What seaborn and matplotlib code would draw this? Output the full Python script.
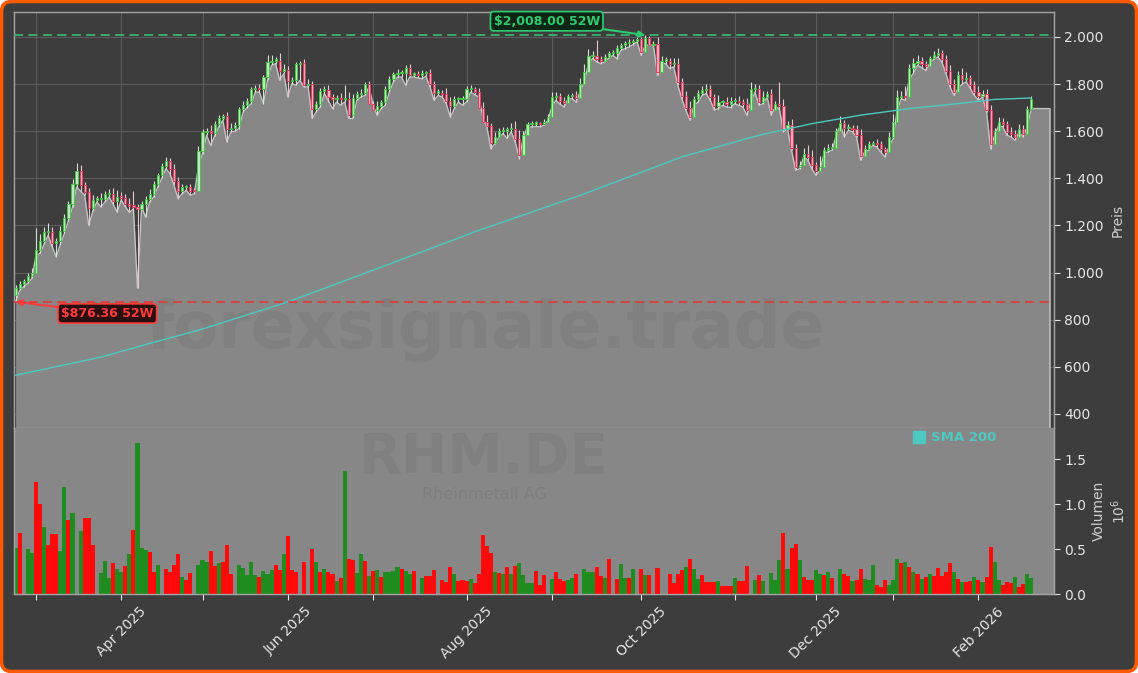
import numpy as np
import pandas as pd
import seaborn as sns
import matplotlib
matplotlib.use("Agg")
import matplotlib.pyplot as plt
from matplotlib.lines import Line2D
from matplotlib.patches import FancyBboxPatch
from matplotlib.transforms import IdentityTransform
from matplotlib.ticker import FuncFormatter

# --- data ---
holidays = ["2025-04-18", "2025-04-21", "2025-05-01", "2025-12-24",
            "2025-12-25", "2025-12-26", "2025-12-31", "2026-01-01"]

low = [876.36, 924, 940, 954, 975, 1070, 1082, 1120, 1158, 1110,
       1066, 1120, 1166, 1220, 1278, 1363, 1345, 1328, 1200, 1260,
       1299, 1278, 1300, 1321, 1290, 1257, 1307, 1280, 1255, 1270,
       933, 1278, 1236, 1300, 1321, 1363, 1400, 1441, 1420, 1370,
       1314, 1335, 1349, 1328, 1335, 1448, 1505, 1583, 1540, 1580,
       1618, 1646, 1555, 1597, 1600, 1611, 1682, 1700, 1717, 1766,
       1766, 1717, 1816, 1880, 1887, 1816, 1845, 1745, 1802, 1795,
       1816, 1788, 1788, 1654, 1682, 1703, 1760, 1730, 1696, 1724,
       1710, 1724, 1654, 1654, 1731, 1745, 1752, 1788, 1710, 1668,
       1696, 1710, 1766, 1809, 1830, 1830, 1795, 1830, 1830, 1826,
       1823, 1833, 1788, 1731, 1752, 1745, 1717, 1660, 1696, 1724,
       1710, 1724, 1766, 1755, 1745, 1660, 1618, 1526, 1547, 1576,
       1590, 1569, 1597, 1554, 1484, 1576, 1618, 1618, 1620, 1618,
       1625, 1646, 1703, 1731, 1715, 1703, 1738, 1738, 1724, 1770,
       1809, 1887, 1908, 1895, 1887, 1894, 1910, 1922, 1908, 1943,
       1950, 1958, 1968, 1979, 1922, 1965, 1965, 1965, 1837, 1887,
       1887, 1866, 1873, 1795, 1738, 1689, 1646, 1710, 1724, 1752,
       1760, 1731, 1690, 1696, 1710, 1703, 1700, 1717, 1710, 1703,
       1668, 1724, 1766, 1710, 1717, 1745, 1668, 1703, 1696, 1597,
       1611, 1519, 1434, 1441, 1491, 1477, 1441, 1413, 1434, 1505,
       1512, 1519, 1583, 1625, 1576, 1604, 1597, 1576, 1477, 1512,
       1519, 1540, 1533, 1510, 1491, 1533, 1569, 1689, 1738, 1731,
       1823, 1845, 1880, 1870, 1858, 1887, 1905, 1915, 1894, 1845,
       1788, 1752, 1781, 1800, 1809, 1781, 1752, 1731, 1745, 1682,
       1526, 1583, 1625, 1618, 1583, 1576, 1561, 1597, 1576, 1618,
       1696]

close = [934, 950, 964, 985, 1000, 1095, 1132, 1170, 1172, 1124,
         1132, 1178, 1232, 1290, 1375, 1430, 1370, 1340, 1272, 1310,
         1312, 1312, 1333, 1335, 1302, 1320, 1318, 1292, 1284, 1280,
         1270, 1290, 1312, 1333, 1375, 1412, 1453, 1475, 1440, 1390,
         1347, 1362, 1362, 1347, 1345, 1517, 1595, 1600, 1592, 1630,
         1658, 1665, 1609, 1614, 1625, 1694, 1712, 1729, 1778, 1782,
         1780, 1828, 1892, 1900, 1900, 1857, 1860, 1814, 1816, 1885,
         1890, 1795, 1800, 1694, 1715, 1772, 1775, 1745, 1736, 1738,
         1736, 1738, 1668, 1743, 1757, 1764, 1800, 1715, 1690, 1708,
         1722, 1778, 1821, 1842, 1845, 1845, 1870, 1840, 1842, 1838,
         1845, 1845, 1800, 1764, 1764, 1757, 1729, 1708, 1736, 1736,
         1736, 1778, 1778, 1767, 1700, 1640, 1620, 1550, 1575, 1600,
         1602, 1609, 1610, 1566, 1500, 1585, 1630, 1632, 1632, 1630,
         1640, 1660, 1745, 1750, 1730, 1720, 1750, 1752, 1740, 1800,
         1850, 1920, 1920, 1905, 1900, 1915, 1930, 1930, 1955, 1965,
         1975, 1978, 1985, 1990, 1935, 1995, 1965, 1970, 1850, 1900,
         1900, 1885, 1885, 1810, 1750, 1700, 1660, 1736, 1764, 1775,
         1780, 1745, 1708, 1722, 1722, 1715, 1729, 1729, 1722, 1715,
         1690, 1778, 1780, 1725, 1745, 1757, 1690, 1715, 1708, 1610,
         1625, 1530, 1450, 1455, 1505, 1490, 1455, 1430, 1450, 1520,
         1530, 1530, 1600, 1635, 1612, 1615, 1610, 1585, 1495, 1525,
         1545, 1550, 1545, 1525, 1510, 1575, 1640, 1745, 1750, 1745,
         1870, 1890, 1900, 1885, 1875, 1910, 1925, 1930, 1905, 1855,
         1800, 1765, 1840, 1820, 1825, 1795, 1765, 1748, 1760, 1690,
         1545, 1600, 1640, 1632, 1597, 1590, 1575, 1610, 1590, 1696,
         1738]
first_open = 905

upper_wick = [15, 12, 10, 14, 20, 95, 30, 25, 40, 20,
              15, 20, 18, 15, 20, 34, 25, 15, 20, 18,
              12, 25, 15, 20, 25, 30, 20, 15, 25, 60,
              10, 15, 12, 20, 15, 10, 12, 15, 12, 20,
              15, 12, 10, 15, 10, 20, 15, 12, 25, 15,
              12, 10, 15, 20, 12, 10, 15, 12, 10, 15,
              20, 12, 30, 25, 15, 30, 25, 15, 12, 10,
              10, 15, 20, 15, 12, 10, 15, 20, 12, 15,
              25, 60, 30, 15, 12, 15, 10, 12, 15, 20,
              12, 15, 12, 10, 20, 15, 12, 15, 10, 12,
              15, 10, 20, 12, 15, 10, 25, 15, 12, 10,
              15, 12, 20, 10, 15, 25, 30, 15, 20, 12,
              15, 10, 25, 35, 40, 15, 10, 12, 10, 8,
              10, 15, 20, 15, 12, 15, 10, 12, 20, 25,
              35, 30, 20, 66, 15, 12, 10, 15, 12, 10,
              10, 12, 8, 10, 10, 13, 10, 12, 30, 20,
              15, 12, 25, 25, 15, 20, 30, 15, 12, 15,
              20, 15, 12, 30, 10, 25, 15, 12, 20, 15,
              25, 30, 20, 15, 25, 15, 20, 15, 95, 30,
              20, 25, 15, 20, 25, 35, 30, 15, 45, 15,
              15, 20, 15, 30, 12, 15, 10, 15, 25, 15,
              12, 10, 15, 12, 10, 20, 35, 30, 20, 40,
              15, 20, 25, 15, 12, 10, 15, 25, 15, 20,
              25, 20, 15, 30, 25, 15, 20, 25, 15, 20,
              20, 15, 20, 15, 12, 20, 15, 20, 15, 12,
              10]

# volume in millions of shares
volume = [.51, .68, 0, .50, .46, 1.24, 1.00, .75, .54, .67,
          .67, .48, 1.19, .82, .90, 0, .70, .84, .85, .54,
          0, .23, .37, .18, .35, .28, .25, .31, .45, .71,
          1.68, .51, .49, .47, .25, .32, 0, .28, .24, .32,
          .45, .19, .16, .23, 0, .32, .38, .36, .48, .31,
          .35, .36, .54, .22, 0, .32, .29, .21, .36, .21,
          .19, .26, .22, .27, .32, .27, .44, .64, .27, .25,
          0, .36, 0, .50, .36, .25, .28, .25, .22, .15,
          .18, 1.37, .39, .38, .23, .45, .37, .20, .26, .27,
          .19, .25, .24, .26, .30, .28, .26, .22, .26, 0,
          .18, .20, .20, .27, 0, .16, .13, .30, .22, .15,
          .16, .15, .17, .12, .22, .66, .53, .46, .24, .23,
          .22, .30, .22, .31, .34, .21, .12, .12, .26, .10,
          .21, 0, .17, .24, .17, .15, .16, .18, .22, 0,
          .28, .24, .24, .30, .20, .18, .39, 0, .17, .33,
          .18, .18, .28, 0, .28, .21, .21, 0, .29, 0,
          0, .22, .12, .22, .27, .30, .39, .28, .17, .21,
          .13, .13, .13, .15, .09, .09, .09, .18, .15, .15,
          .31, 0, .16, .21, .15, 0, .23, .16, .38, .68,
          .28, .51, .56, .38, .19, .16, .16, .27, .22, .21,
          .24, .18, 0, .28, .22, .20, .15, .16, .28, .17,
          .16, .32, .10, .08, .16, .10, .16, .39, .34, .36,
          .30, .24, .22, .17, .19, .22, .20, .29, .20, .24,
          .34, .25, .17, .13, .13, .14, .19, .16, .13, .19,
          .52, .36, .16, .10, .13, .12, .19, .08, .11, .22,
          .18]
vol_dir = ("grgggrrgrr" "rggrgggrrr" "ggggrggrgr" "gggrrggrrr" "rgrrggggrr"
           "grrrgggggg" "rgggrrgrrr" "grgrgrgrrg" "rgrrggrgrg" "rggggrggrg"
           "grrrgrrrgr" "rrgrrrrrgr" "grgrggggrr" "rggrrrggrg" "gggrrgrgrg"
           "grggrgrgrg" "grrrrgrggr" "rrrgrrrgrr" "rggrgggggr" "grrgrrrggr"
           "grggrrgrrg" "ggrrrgggrg" "rgrgrgrrrr" "rgrgrrgrgr" "rggrrrgrrgg")

sma_day = [0, 8, 21, 33, 45, 67, 90, 114, 139, 164, 183, 196, 208, 220, 232, 241, 250]
sma_value = [564, 593, 641, 699, 755, 875, 1023, 1179, 1328, 1491, 1583, 1632,
             1668, 1696, 1717, 1735, 1741]

high_52w = 2008.00
low_52w = 876.36
extend_days = 4.6   # flat shaded tail right of the last candle

# --- derived ---
dates = pd.bdate_range("2025-02-24", "2026-02-19")
dates = dates[~dates.isin(pd.to_datetime(holidays))]
n = len(dates)
idx = np.arange(n)
low = np.array(low, float)
close = np.array(close, float)
opn = np.r_[first_open, close[:-1]]
high = np.maximum(opn, close) + np.array(upper_wick, float)
wick_low = np.minimum(low, np.minimum(opn, close))
up = close >= opn

BG = "#3d3d3d"
FILL = "#878787"
SMA_C = "#4cc9c0"
TXT = "#e6e6e6"

sns.set_theme(style="dark")
plt.rcParams["font.family"] = ["DejaVu Sans"]

fig = plt.figure(figsize=(11.38, 6.73), dpi=100, facecolor="white")
frame = FancyBboxPatch((1.5, 1.5), 1135, 670, boxstyle="round,pad=0,rounding_size=10",
                       transform=IdentityTransform(), fc=BG, ec="#ff5a00", lw=2.6, zorder=-10)
fig.add_artist(frame)

ax = fig.add_axes([14 / 1138, 1 - 428 / 673, 1040 / 1138, 416 / 673])
axv = fig.add_axes([14 / 1138, 1 - 594 / 673, 1040 / 1138, 166 / 673], sharex=ax)
ax.set_facecolor(BG)
axv.set_facecolor(FILL)

# price panel
xf = np.r_[idx, n - 1 + extend_days]
yf = np.r_[low, low[-1]]
ax.fill_between(xf, yf, 0, color=FILL, lw=0, zorder=1)
ax.plot(np.r_[xf, xf[-1]], np.r_[yf, 0], color="#c4c4c4", lw=1.0, zorder=2)

ax.vlines(idx[up], wick_low[up], high[up], color="#d2e4d2", lw=0.8, zorder=3)
ax.vlines(idx[~up], wick_low[~up], high[~up], color="#ecc6cd", lw=0.8, zorder=3)
body_lo = np.minimum(opn, close)
body_h = np.maximum(np.abs(close - opn), 5)
ax.bar(idx[up], body_h[up], bottom=body_lo[up], width=0.55, color="#bfe6bf",
       edgecolor="#45c845", lw=0.7, zorder=4)
ax.bar(idx[~up], body_h[~up], bottom=body_lo[~up], width=0.55, color="#f4b0bd",
       edgecolor="#e83a5f", lw=0.7, zorder=4)

sns.lineplot(x=sma_day, y=sma_value, ax=ax, color=SMA_C, lw=1.0, zorder=5, legend=False)

ax.axhline(high_52w, color="#3cb371", ls=(0, (5, 3)), lw=1.3, zorder=5)
ax.axhline(low_52w, color="#d9403c", ls=(0, (5, 3)), lw=1.3, zorder=5)

hi_i = int(np.argmax(high))
ax.annotate(f"${high_52w:,.2f} 52W", xy=(hi_i, high_52w), xytext=(-71, 10),
            textcoords="offset points", ha="center", va="center", color="#2ecc71",
            fontsize=9, fontweight="bold", zorder=8,
            bbox=dict(boxstyle="round,pad=0.25", fc="#0c2616", ec="#2ecc71", lw=1.2),
            arrowprops=dict(arrowstyle="-|>", color="#2ecc71", lw=1.5, shrinkA=0, shrinkB=0))
ax.annotate(f"${low_52w:,.2f} 52W", xy=(0, low_52w), xytext=(66, -8.5),
            textcoords="offset points", ha="center", va="center", color="#ff3b3b",
            fontsize=9, fontweight="bold", zorder=8,
            bbox=dict(boxstyle="round,pad=0.25", fc="#2a0e0e", ec="#ff3b3b", lw=1.2),
            arrowprops=dict(arrowstyle="-|>", color="#ff3b3b", lw=1.5, shrinkA=0, shrinkB=0))

ax.text(0.453, 0.235, "forexsignale.trade", transform=ax.transAxes, ha="center", va="center",
        fontsize=47, fontweight="bold", color=BG, alpha=0.09, zorder=1.5)

ax.set_xlim(-0.4, 255.6)
ax.set_ylim(340, 2106)
ax.set_yticks(np.arange(400, 2001, 200))
ax.yaxis.set_major_formatter(FuncFormatter(lambda v, _: f"{v:,.0f}".replace(",", ".")))
ax.yaxis.tick_right()
ax.yaxis.set_label_position("right")
ax.set_ylabel("Preis", color="#cfcfcf", fontsize=10, labelpad=5)
ax.set_axisbelow(True)
ax.grid(True, color="#5c5c5c", lw=0.8)

# month ticks
month_pos, month_lab = [], []
for m in pd.period_range("2025-03", "2026-02", freq="M"):
    pos = np.flatnonzero(dates.to_period("M") == m)[0]
    month_pos.append(pos)
    month_lab.append(m.strftime("%b %Y") if m.month % 2 == 0 else "")
ax.set_xticks(month_pos)
ax.tick_params(axis="x", bottom=False, labelbottom=False)
ax.tick_params(axis="y", colors=TXT, labelcolor=TXT, labelsize=10, length=4, width=0.8, right=True)

# volume panel
vol_col = ["#1e8c1e" if d == "g" else "#ff0a0a" for d in vol_dir]
axv.bar(idx, volume, width=1.0, color=vol_col, lw=0, zorder=2)
axv.text(0.452, 0.82, "RHM.DE", transform=axv.transAxes, ha="center", va="center",
         fontsize=40, fontweight="bold", color=BG, alpha=0.09, zorder=0.5)
axv.text(0.452, 0.6, "Rheinmetall AG", transform=axv.transAxes, ha="center", va="center",
         fontsize=11.5, color=BG, alpha=0.12, zorder=0.5)
axv.set_ylim(0, 1.845)
axv.set_yticks([0, 0.5, 1.0, 1.5])
axv.yaxis.set_major_formatter(FuncFormatter(lambda v, _: f"{v:.1f}"))
axv.yaxis.tick_right()
axv.yaxis.set_label_position("right")
axv.set_ylabel("Volumen\n$10^6$", color="#cfcfcf", fontsize=10, labelpad=4)
axv.set_xticks(month_pos)
axv.set_xticklabels(month_lab, rotation=45, ha="center")
axv.tick_params(axis="x", colors=TXT, labelcolor=TXT, labelsize=10, length=4, width=0.8, bottom=True)
axv.tick_params(axis="y", colors=TXT, labelcolor=TXT, labelsize=10, length=4, width=0.8, right=True)
axv.grid(False)

leg = axv.legend(handles=[Line2D([0], [0], marker="s", ls="", color=SMA_C, markersize=8)],
                 labels=["SMA 200"], loc="center left", bbox_to_anchor=(0.864, 0.94),
                 borderaxespad=0, borderpad=0, handlelength=1.0, handletextpad=0.4,
                 frameon=False, prop=dict(weight="bold", size=9.5))
for t in leg.get_texts():
    t.set_color(SMA_C)

for a in (ax, axv):
    for s in a.spines.values():
        s.set_color("#a6a6a6")
        s.set_linewidth(1.0)
axv.spines["top"].set_visible(False)

fig.savefig("out.png", dpi=100)
